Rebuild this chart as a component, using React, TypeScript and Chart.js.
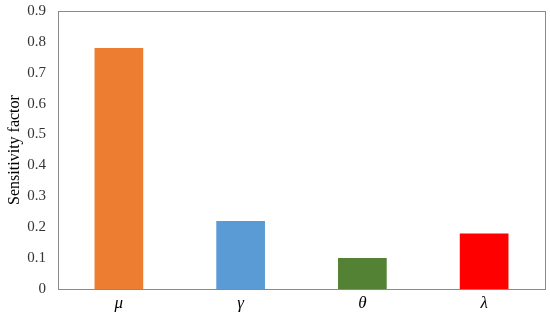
import React, { useEffect, useRef } from "react";
import { Chart, registerables } from "chart.js";

Chart.register(...registerables);

const categories = ["μ", "γ", "θ", "λ"];
const values = [0.78, 0.22, 0.1, 0.18];
const barColors = ["#ED7D31", "#5B9BD5", "#548235", "#FF0000"];
const yTitle = "Sensitivity factor";
const yMax = 0.9;
const yStep = 0.1;

const serif = "'Liberation Serif', 'Times New Roman', serif";

const frame = {
  id: "frame",
  afterDraw(chart: any) {
    const { ctx, chartArea } = chart;
    ctx.save();
    ctx.strokeStyle = "#8a8a8a";
    ctx.lineWidth = 1;
    ctx.strokeRect(
      Math.round(chartArea.left) + 0.5,
      Math.round(chartArea.top) + 0.5,
      Math.round(chartArea.right - chartArea.left),
      Math.round(chartArea.bottom - chartArea.top)
    );
    ctx.restore();
  },
};

export default function App() {
  const ref = useRef<HTMLCanvasElement>(null);
  useEffect(() => {
    const chart = new Chart(ref.current!, {
      type: "bar",
      data: {
        labels: categories,
        datasets: [
          {
            data: values,
            backgroundColor: barColors,
            categoryPercentage: 1,
            barPercentage: 0.4,
          },
        ],
      },
      options: {
        animation: false,
        responsive: false,
        layout: { padding: { top: 0, right: 5, left: 4, bottom: 0 } },
        plugins: { legend: { display: false }, tooltip: { enabled: false } },
        scales: {
          x: {
            grid: { display: false, drawTicks: false },
            border: { display: false },
            afterFit: (scale: any) => {
              scale.height = 26;
            },
            ticks: {
              color: "#000",
              padding: 4,
              font: { family: serif, size: 17, style: "italic" },
            },
          },
          y: {
            min: 0,
            max: yMax,
            grid: { display: false, drawTicks: false },
            border: { display: false },
            afterFit: (scale: any) => {
              scale.width = 54;
              scale.paddingTop = 11;
            },
            ticks: {
              stepSize: yStep,
              color: "#333",
              padding: 12,
              font: { family: serif, size: 15 },
            },
            title: {
              display: true,
              text: yTitle,
              color: "#000",
              padding: { top: 1, bottom: 2 },
              font: { family: serif, size: 16 },
            },
          },
        },
      },
      plugins: [frame],
    });
    return () => chart.destroy();
  }, []);
  return (
    <div style={{ position: "fixed", left: 0, top: 0, width: 550, height: 315, background: "#fff" }}>
      <canvas ref={ref} width={550} height={315} style={{ width: 550, height: 315 }} />
    </div>
  );
}
